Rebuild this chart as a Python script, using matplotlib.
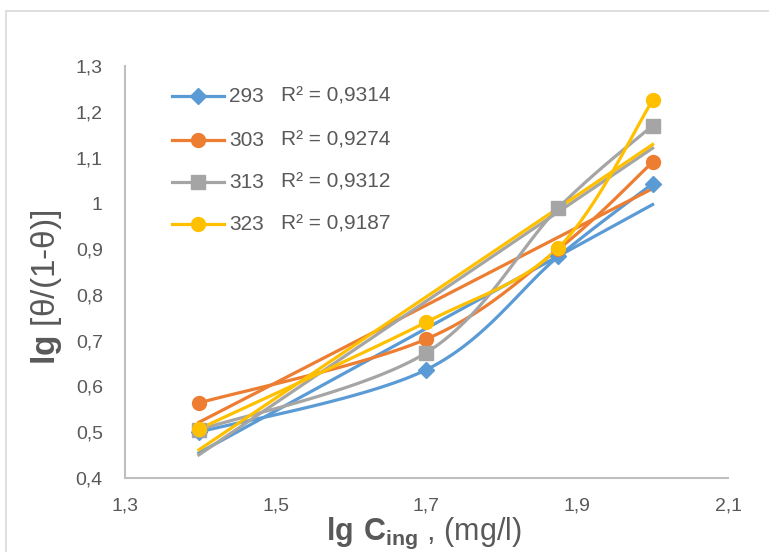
import matplotlib.pyplot as plt
import matplotlib.patches as patches
from matplotlib.ticker import FuncFormatter, FixedLocator
import numpy as np

plt.rcParams['font.family'] = ['Liberation Sans', 'DejaVu Sans']
plt.rcParams['mathtext.fontset'] = 'custom'
plt.rcParams['mathtext.rm'] = 'Liberation Sans'
plt.rcParams['mathtext.bf'] = 'Liberation Sans:bold'

# lg C (25, 50, 75, 100 mg/l)
lg_c = [1.398, 1.699, 1.875, 2.0]

temps = ['293', '303', '313', '323']
r2_labels = ['R² = 0,9314', 'R² = 0,9274', 'R² = 0,9312', 'R² = 0,9187']
y293 = [0.500, 0.636, 0.884, 1.043]
y303 = [0.564, 0.703, 0.900, 1.090]
y313 = [0.505, 0.673, 0.990, 1.170]
y323 = [0.507, 0.740, 0.903, 1.225]

x_ticks = [1.3, 1.5, 1.7, 1.9, 2.1]
y_ticks = [0.4, 0.5, 0.6, 0.7, 0.8, 0.9, 1.0, 1.1, 1.2, 1.3]

colors = ['#5B9BD5', '#ED7D31', '#A5A5A5', '#FFC000']
markers = ['D', 'o', 's', 'o']
msizes = [8, 10, 9.5, 10]
txt_col = '#595959'


def smooth(x, y, n=40):
    # bezier smoothing through the points, like spreadsheet "smoothed line"
    pts = np.column_stack([x, y])
    k = len(pts)
    t = np.linspace(0, 1, n)[:, None]
    out = []
    for i in range(k - 1):
        p0 = pts[max(i - 1, 0)]
        p1 = pts[i]
        p2 = pts[i + 1]
        p3 = pts[min(i + 2, k - 1)]
        c1 = p1 + (p2 - p0) / 6
        c2 = p2 - (p3 - p1) / 6
        seg = ((1 - t) ** 3) * p1 + 3 * ((1 - t) ** 2) * t * c1 + 3 * (1 - t) * t ** 2 * c2 + t ** 3 * p2
        out.append(seg)
    out = np.vstack(out)
    return out[:, 0], out[:, 1]


fig = plt.figure(figsize=(7.69, 5.52), dpi=100)
ax = fig.add_axes([125 / 769, 1 - 478 / 552, 603 / 769, 412 / 552])

# chart border
fig.patches.append(patches.Rectangle((6 / 769, -0.1), 1.2, 1 - 11 / 552 + 0.1, transform=fig.transFigure,
                                     fill=False, edgecolor='#D9D9D9', lw=1.2))

series = [y293, y303, y313, y323]
x = np.array(lg_c)
for ys, c, m, ms in zip(series, colors, markers, msizes):
    ys = np.array(ys)
    sx, sy = smooth(x, ys)
    ax.plot(sx, sy, color=c, lw=2.3, zorder=2, solid_capstyle='round')
    k, b = np.polyfit(x, ys, 1)
    xt = np.array([x[0], x[-1]])
    ax.plot(xt, k * xt + b, color=c, lw=2.3, zorder=2)
for ys, c, m, ms in zip(series, colors, markers, msizes):
    ax.plot(x, ys, ls='none', marker=m, ms=ms, color=c, mec=c, zorder=3)

ax.set_xlim(1.3, 2.1)
ax.set_ylim(0.4, 1.3)
ax.xaxis.set_major_locator(FixedLocator(x_ticks))
ax.yaxis.set_major_locator(FixedLocator(y_ticks))
fmt = FuncFormatter(lambda v, p: ('%g' % round(v, 2)).replace('.', ','))
ax.xaxis.set_major_formatter(fmt)
ax.yaxis.set_major_formatter(fmt)
ax.tick_params(length=0, labelsize=14, labelcolor=txt_col)
ax.tick_params(axis='x', pad=14)
ax.tick_params(axis='y', pad=16)
for s in ['top', 'right']:
    ax.spines[s].set_visible(False)
for s in ['left', 'bottom']:
    ax.spines[s].set_color('#BFBFBF')
    ax.spines[s].set_linewidth(1.5)

# legend with R² values
def ax_pt(px, py):
    return (px - 125) / 603, (478 - py) / 412

rows = [96, 140, 182, 224]
for ty, lab, r2, c, m, ms in zip(rows, temps, r2_labels, colors, markers, msizes):
    x0, yy = ax_pt(172, ty)
    x1, _ = ax_pt(224, ty)
    xm, _ = ax_pt(198, ty)
    ax.plot([x0, x1], [yy, yy], color=c, lw=2.3, transform=ax.transAxes, clip_on=False)
    ax.plot([xm], [yy], marker=m, ms=ms, color=c, transform=ax.transAxes, clip_on=False)
    xl, _ = ax_pt(229, ty)
    ax.text(xl, yy, lab, transform=ax.transAxes, fontsize=15, color=txt_col, va='center')
    xr, _ = ax_pt(281, ty)
    ax.text(xr, yy, r2, transform=ax.transAxes, fontsize=15, color=txt_col, va='center')

fig.text(47 / 769, 1 - 287 / 552, r'$\mathbf{lg}$ [θ/(1-θ)]', rotation=90, fontsize=24,
         color=txt_col, ha='center', va='center')
fig.text(424 / 769, 1 - 533 / 552, r'$\mathbf{lg\ C_{ing}}$ , (mg/l)', fontsize=22,
         color=txt_col, ha='center', va='center')

fig.savefig('out.png', dpi=100)
